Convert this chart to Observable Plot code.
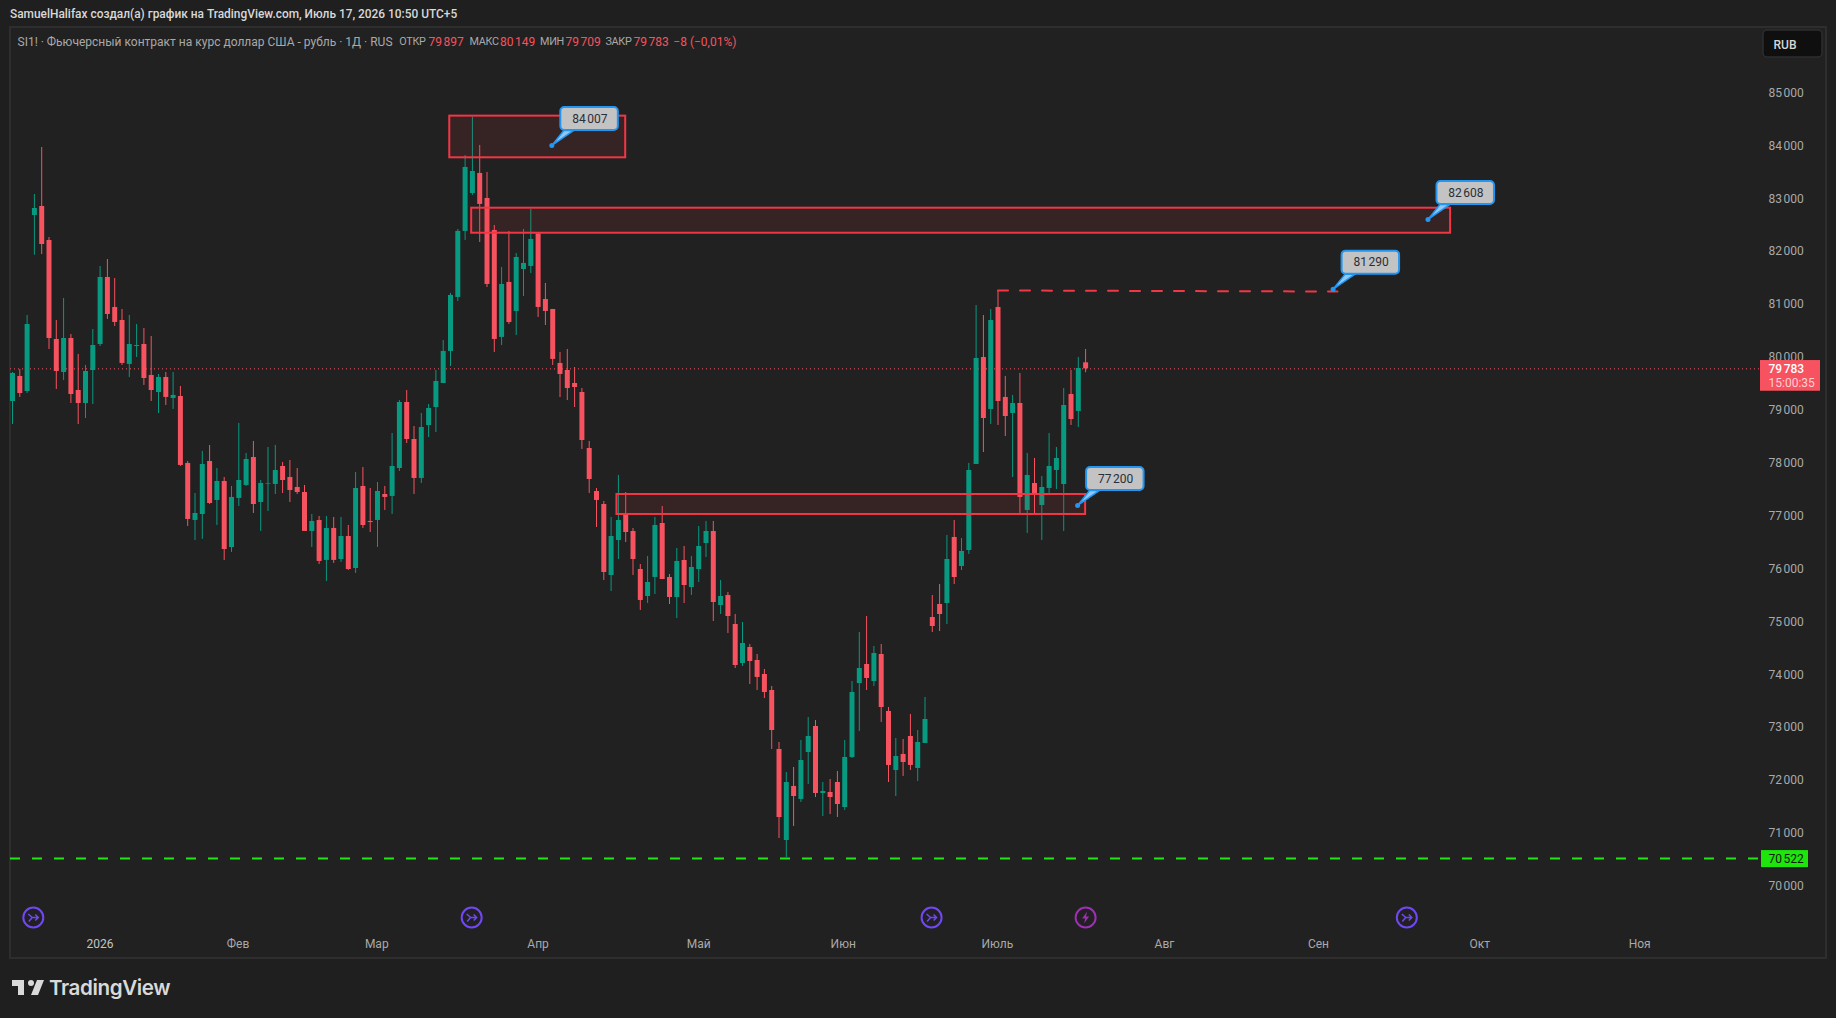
<!DOCTYPE html>
<html><head><meta charset="utf-8">
<script src="https://cdn.jsdelivr.net/npm/d3@7"></script>
<script src="https://cdn.jsdelivr.net/npm/@observablehq/plot@0.6"></script>
<style>
html,body{margin:0;padding:0;width:1836px;height:1018px;overflow:hidden;background:#1f1f1f;font-family:Roboto,sans-serif}
#head{height:27px;line-height:29px;padding-left:10px;font-size:11.9px;font-weight:500;color:#d8d8d8;box-sizing:border-box;white-space:nowrap}
#chart{position:relative;width:1836px;height:930px}
#chart svg{display:block;position:absolute;left:0;top:0;background:transparent}
#pane{position:absolute;left:9px;top:-1px;width:1814px;height:929px;border:2px solid #2e2e2e;background:#212121;box-sizing:content-box}
#legend{position:absolute;left:0;top:7px;width:800px;height:16px;font-size:12px;line-height:16px;color:#a9a9a9;white-space:nowrap}
#legend span{position:absolute;top:0}
#legend .v{color:#f7525f}
#legend .k{font-size:10.8px;letter-spacing:-.3px}
#foot{height:61px;position:relative}
#foot svg{position:absolute;left:10px;top:16.5px}
#foot span{position:absolute;left:49px;top:18px;font-family:Inter,sans-serif;font-size:20.6px;font-weight:600;letter-spacing:-.4px;color:#d9d9d9}
</style></head><body>
<div id="head">SamuelHalifax создал(а) график на TradingView.com, Июль 17, 2026 10:50 UTC+5</div>
<div id="chart"><div id="pane"></div>
</div>
<div id="foot"><svg width="36" height="28" viewBox="0 0 36 28" fill="#d9d9d9"><path d="M14 6H2v6h6v9h6V6zm14 15h-7l6-15h7l-6 15zm-7-9a3 3 0 1 0 0-6 3 3 0 0 0 0 6z"/></svg><span>TradingView</span></div>
<script>
const opens=[79166,79639,79355,82683,82853,82210,80338,79714,80357,79374,79128,79752,80244,81510,80943,80698,79866,80206,80244,79658,79336,79620,79223,79260,77994,76916,77029,78031,77294,77653,76405,77332,77578,78107,77256,77603,77597,77937,77729,77540,77445,76708,76916,76160,76765,76178,76613,76008,77559,76897,76916,77407,77370,77899,79147,78447,77710,78712,79052,79506,80112,81133,82381,83099,83478,83005,82400,80377,81417,80868,81662,81719,82337,81095,80906,79885,79752,79506,79336,78277,77464,77218,75875,76537,77048,76707,75989,75478,75838,76859,75838,75459,76159,75648,75989,76480,76707,75308,75497,74949,74211,74514,74268,74003,73701,72585,70864,71886,71640,72528,73020,71753,71772,71961,71488,72434,73833,74192,73871,74381,73304,72188,72491,72831,72226,72699,75081,75327,75346,76594,76046,76348,77975,79998,79015,80943,79242,78939,79128,77105,77615,77199,77521,77861,77596,79298,78977,79897];
const highs=[79714,79771,80792,83080,83968,82266,80698,81114,80433,80055,79847,80527,81718,81851,81491,80906,80792,80622,80546,80395,79677,79714,79714,79450,78031,77426,78221,78334,77899,77729,77559,78750,78183,78410,77672,78296,78334,78013,78050,77899,77578,77029,76992,76992,76973,76973,76821,77823,77918,77521,77634,77559,78561,79185,79374,78693,78939,79109,79752,80320,81209,82419,83818,84543,84007,83497,82494,81700,82381,81965,82419,82797,82337,81398,80906,80093,80149,79808,79411,78409,77520,77275,76972,77766,77445,76764,76083,76235,76972,77180,75894,76386,76424,76235,76802,76897,76897,75781,75554,75138,74987,74571,74381,74098,73776,72717,72150,72245,72755,73190,73133,71961,72018,72169,72755,73871,74797,75100,74533,74571,73379,72793,72774,73247,72944,73568,75497,75705,76632,76916,76575,77994,80980,80792,80906,81265,79639,79279,79695,78183,78088,77748,78561,78296,79412,79752,79998,80149];
const lows=[78731,79242,79317,81932,81945,80149,79393,79563,79128,78731,78845,79109,80206,80717,80584,79847,79620,79998,79469,79166,78939,79090,79015,77937,76802,76538,76557,77218,76821,76160,76311,77181,77559,77048,76708,77086,77407,77426,77256,77407,76708,76405,76084,75762,76103,76122,75970,75914,76765,76689,76405,77105,77029,77842,78371,77407,77615,78485,78579,79506,79828,81057,82211,83062,82173,81322,80093,80225,80622,80414,81152,81587,80755,80603,79847,79241,79184,79052,78258,77426,76783,75781,75573,76178,76499,75875,75214,75346,75516,75800,75327,75062,75346,75497,75743,76216,75006,75138,74779,74117,74155,73814,73701,73550,72585,70902,70543,71129,71583,71923,71677,71318,71356,71299,71432,72415,72925,73701,73776,73096,71961,71696,72075,72188,71980,72699,74797,74816,74949,75705,75970,76273,77975,78202,78731,78712,78504,77729,77042,76670,77042,76538,77426,77502,76708,78712,78674,79709];
const closes=[79695,79317,80622,82815,82134,80357,79733,80357,79298,79128,79733,80225,81510,80811,80660,79885,80244,80225,79601,79374,79620,79242,79280,77956,76935,77048,77975,77237,77653,76367,77351,77672,78069,77218,77616,77616,77861,77672,77483,77445,76708,76897,76141,76765,76160,76613,75989,77521,76821,76878,77464,77351,77937,79147,78447,77710,78674,79033,79544,80112,81171,82381,83591,83515,82892,81379,80339,81379,80660,81889,81776,82230,80944,80868,79961,79677,79411,79430,78428,77691,77294,75932,76613,76915,76688,76178,75403,75743,76821,75800,75459,76140,75686,76027,76424,76707,75365,75478,75100,74173,74589,74249,73947,73663,72944,71299,71961,71696,72377,72831,71753,71791,71677,71545,72434,73663,74117,73928,74400,73379,72283,72453,72339,72283,72717,73152,74911,75138,76178,75837,76330,77861,79979,78844,80698,79166,78882,79128,77351,77767,77407,77540,77937,78088,79090,78825,79790,79783];

const yTicks=[70000,71000,72000,73000,74000,75000,76000,77000,78000,79000,80000,81000,82000,83000,84000,85000];
const monthLabels=["Фев","Мар","Апр","Май","Июн","Июль","Авг","Сен","Окт","Ноя"];
const monthTicks=[30.9,49.9,72,94,113.8,134.9,157.8,178.9,201,222.9];
const yearLabels=["2026"];
const yearTicks=[12];

const zoneStart=[59.9,62.9,82.8];
const zoneEnd=[84,197,147];
const zoneTop=[84562,82821,77407];
const zoneBottom=[83774,82348,77029];

const calloutIdx=[73.88,193.9,180.9,145.9];
const calloutPrice=[84007,82608,81290,77200];

const dashIdx=[135,181.5];
const dashPrice=[81265,81245];
const lastPrice=79783;
const lowPrice=70522;

const eventIdx=[2.85,62.9,125.9,147,191];
const eventKind=["div","div","div","earn","div"];

const fmt=v=>{const s=String(Math.round(v));return s.slice(0,-3)+"\u202f"+s.slice(-3)};

const candles=opens.map((o,i)=>({i,o,h:highs[i],l:lows[i],c:closes[i],col:closes[i]<o?"#f7525f":"#089981"}));
const zones=zoneStart.map((s,k)=>({s,e:zoneEnd[k],t:zoneTop[k],b:zoneBottom[k]}));

// one pixel of x / y in data units, from the chart's own scale domains
const xDomain=[-0.274,239.45], yDomain=[69162,86238];
const W=1836,H=930,mL=10,mR=76,mB=27;
const ux=(xDomain[1]-xDomain[0])/(W-mL-mR), uy=(yDomain[1]-yDomain[0])/(H-mB);

const boxes=calloutIdx.map((i,k)=>{const p=calloutPrice[k],left=i+9*ux,bot=p+15*uy;
  return {k,label:fmt(p),i,p,x1:left,x2:left+57.5*ux,y1:bot,y2:bot+23*uy,
    tx:left+29*ux,ty:bot+11.6*uy,
    poly:[[i,p],[left+3*ux,bot],[left+13*ux,bot]]}});
const polys=boxes.flatMap(b=>b.poly.map(([x,y])=>({k:b.k,x,y})));

const divSymbol={draw(c){ // stylised arrow-in-circle glyph
  c.moveTo(-5,-3.5);c.lineTo(-1,0);c.lineTo(5,0);c.moveTo(2,-3);c.lineTo(5,0);c.lineTo(2,3);c.moveTo(-1,0);c.lineTo(-4.5,4);}};
const earnSymbol={draw(c){c.moveTo(1.5,-6);c.lineTo(-3.5,1);c.lineTo(-.4,1);c.lineTo(-1.5,6);c.lineTo(3.5,-1);c.lineTo(.4,-1);c.closePath();}};
const eventY=69408;
const events=eventIdx.map((i,k)=>({i,kind:eventKind[k]}));

const chart=Plot.plot({
  width:W,height:H,marginLeft:mL,marginRight:mR,marginTop:0,marginBottom:mB,
  style:{background:"transparent",fontFamily:"Roboto,sans-serif",fontSize:"12px",overflow:"visible"},
  x:{type:"linear",domain:xDomain},
  y:{type:"linear",domain:yDomain},
  marks:[
    Plot.axisY(yTicks,{anchor:"right",tickSize:0,tickPadding:8,tickFormat:fmt,label:null,fill:"#a9a9a9",fontSize:12}),
    Plot.axisX(monthTicks,{anchor:"bottom",tickSize:0,tickPadding:8.5,tickFormat:d=>monthLabels[monthTicks.indexOf(d)],label:null,fill:"#a9a9a9",fontSize:12}),
    Plot.axisX(yearTicks,{anchor:"bottom",tickSize:0,tickPadding:8.5,tickFormat:d=>yearLabels[yearTicks.indexOf(d)],label:null,fill:"#c4c4c4",fontSize:12}),
    Plot.ruleY([lastPrice],{stroke:"#f7525f",strokeWidth:1,strokeDasharray:"1,3"}),
    Plot.ruleX(candles,{x:"i",y1:"l",y2:"h",stroke:"col",strokeWidth:1,clip:"frame"}),
    Plot.ruleX(candles,{x:"i",y1:"o",y2:"c",stroke:"col",strokeWidth:5,clip:"frame"}),
    Plot.rect(zones,{x1:"s",x2:"e",y1:"b",y2:"t",fill:"#f23645",fillOpacity:.1,stroke:"#f23645",strokeWidth:2}),
    Plot.line(dashIdx.map((i,k)=>({i,p:dashPrice[k]})),{x:"i",y:"p",stroke:"#f23645",strokeWidth:2,strokeDasharray:"10,12"}),
    Plot.ruleY([lowPrice],{stroke:"#22e613",strokeWidth:2,strokeDasharray:"10,12"}),
    Plot.dot(events,{x:"i",y:()=>eventY,r:10,fill:"#212121",stroke:d=>d.kind==="div"?"#7147f5":"#9c2fb3",strokeWidth:2}),
    Plot.dot(events.filter(d=>d.kind==="div"),{x:"i",y:()=>eventY,symbol:divSymbol,fill:"none",stroke:"#7147f5",strokeWidth:1.5}),
    Plot.dot(events.filter(d=>d.kind==="earn"),{x:"i",y:()=>eventY,symbol:earnSymbol,fill:"#9c2fb3",stroke:"none"}),
    Plot.line(polys,{x:"x",y:"y",z:"k",curve:"linear-closed",fill:"#8fc8f5",stroke:"#2196f3",strokeWidth:1.5}),
    Plot.rect(boxes,{x1:"x1",x2:"x2",y1:"y1",y2:"y2",fill:"#c3c3c3",stroke:"#2196f3",strokeWidth:2,rx:4,ry:4}),
    Plot.dot(boxes,{x:"i",y:"p",r:2.5,fill:"#2196f3"}),
    Plot.text(boxes,{x:"tx",y:"ty",text:"label",fill:"#2a2e39",fontSize:12}),
    // price scale tags
    Plot.rect([0],{x1:()=>xDomain[1],x2:()=>xDomain[1]+60*ux,y1:()=>lastPrice+8.3*uy,y2:()=>lastPrice-22.4*uy,fill:"#f7525f"}),
    Plot.text(["79\u202f783"],{x:()=>xDomain[1]+8*ux,y:()=>lastPrice,text:d=>d,textAnchor:"start",fill:"#fff",fontWeight:500,fontSize:12}),
    Plot.text(["15:00:35"],{x:()=>xDomain[1]+8*ux,y:()=>lastPrice-14.4*uy,text:d=>d,textAnchor:"start",fill:"#ffd0d4",fontSize:12}),
    Plot.rect([0],{x1:()=>xDomain[1]+1*ux,x2:()=>xDomain[1]+48*ux,y1:()=>lowPrice+8*uy,y2:()=>lowPrice-9*uy,fill:"#1ee60d"}),
    Plot.text(["70\u202f522"],{x:()=>xDomain[1]+8*ux,y:()=>lowPrice-1*uy,text:d=>d,textAnchor:"start",fill:"#0a1a08",fontSize:12}),
    Plot.rect([0],{x1:()=>xDomain[1]+3*ux,x2:()=>xDomain[1]+62*ux,y1:()=>yDomain[1]-3*uy,y2:()=>yDomain[1]-30*uy,fill:"#0f0f0f",stroke:"#2e2e2e",strokeWidth:1.5,rx:4,ry:4}),
    Plot.text(["RUB"],{x:()=>xDomain[1]+13*ux,y:()=>yDomain[1]-17.5*uy,text:d=>d,textAnchor:"start",fill:"#d6d6d6",fontSize:12,fontWeight:500})
  ]
});
const host=document.getElementById("chart");
host.appendChild(chart);
const legendParts=[
 ["SI1! · Фьючерсный контракт на курс доллар США - рубль · 1Д · RUS",17.5,""],
 ["ОТКР",399.3,"k"],["79\u202f897",428.6,"v"],
 ["МАКС",469.6,"k"],["80\u202f149",500,"v"],
 ["МИН",540,"k"],["79\u202f709",565.6,"v"],
 ["ЗАКР",605.4,"k"],["79\u202f783",633.5,"v"],
 ["−8 (−0,01%)",673.3,"v"]];
const leg=document.createElement("div");leg.id="legend";
legendParts.forEach(([t,x,c])=>{const s=document.createElement("span");s.textContent=t;s.style.left=x+"px";if(c)s.className=c;leg.appendChild(s)});
host.appendChild(leg);
</script>
</body></html>
